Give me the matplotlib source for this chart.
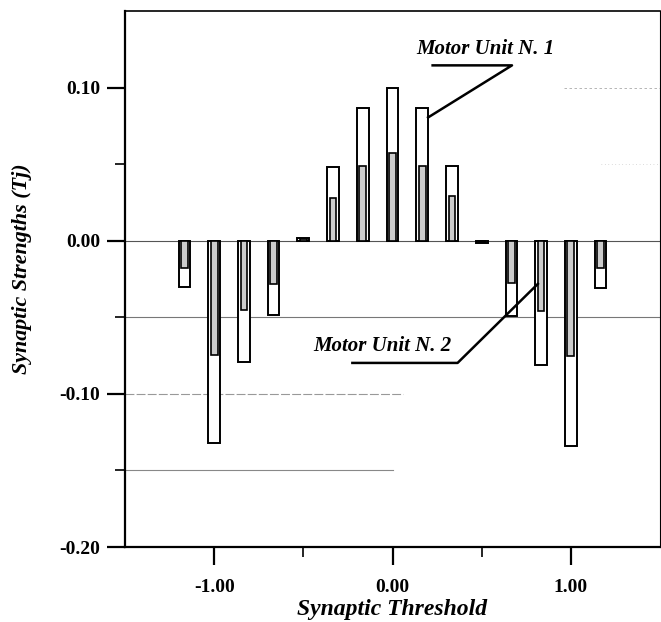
import numpy as np
import matplotlib.pyplot as plt

# Dane
progi = [-7/6, -1.0, -5/6, -4/6, -0.5, -2/6, -1/6, 0.0, 1/6, 2/6, 0.5, 4/6, 5/6, 1.0, 7/6]
unit1 = [-0.030, -0.132, -0.079, -0.0485, 0.0015, 0.048, 0.0865, 0.100, 0.0865, 0.0485,
         -0.0015, -0.049, -0.081, -0.134, -0.031]
unit2 = [-0.0175, -0.0747, -0.045, -0.028, 0.001, 0.028, 0.049, 0.057, 0.049, 0.029,
         -0.001, -0.0277, -0.046, -0.0753, -0.018]

yticks = [0.10, 0.00, -0.10, -0.20]
xticks = [-1.0, 0.0, 1.0]

serif = ['Liberation Serif', 'DejaVu Serif']

fig = plt.figure(figsize=(6.61, 6.22), dpi=100)
ax = fig.add_axes([125/661, 75/622, 535/661, 536/622])

# Linie siatki (częściowe, jak na skanie)
ax.axhline(0.0, color='#555555', lw=0.8, zorder=1)
ax.axhline(-0.05, color='#777777', lw=0.8, zorder=1)
ax.axhline(-0.10, xmax=0.52, color='#999999', lw=0.8, ls=(0, (8, 2)), zorder=1)
ax.axhline(-0.15, xmax=0.50, color='#888888', lw=0.8, zorder=1)
ax.axhline(0.10, xmin=0.82, color='#aaaaaa', lw=0.6, ls=(0, (3, 3)), zorder=1)
ax.axhline(0.05, xmin=0.89, color='#bbbbbb', lw=0.5, ls=(0, (1, 4)), zorder=1)

ax.bar(progi, unit1, width=0.066, facecolor='white', edgecolor='black', lw=1.4, zorder=2)
ax.bar(progi, unit2, width=0.038, facecolor='#cccccc', edgecolor='black', lw=1.2, zorder=3)

ax.set_xlim(-1.5, 1.5)
ax.set_ylim(-0.20, 0.15)

ax.set_xticks(xticks)
ax.set_xticklabels(['%.2f' % v for v in xticks])
ax.set_xticks([-0.5, 0.5], minor=True)
ax.set_yticks(yticks)
ax.set_yticklabels(['%.2f' % v for v in yticks])
ax.set_yticks([0.05, -0.05, -0.15], minor=True)

ax.tick_params(axis='both', which='major', direction='out', length=13, width=1.6)
ax.tick_params(axis='x', which='major', pad=10)
ax.tick_params(axis='y', which='major', pad=5)
ax.tick_params(axis='both', which='minor', direction='out', length=7, width=1.2)
for lab in ax.get_xticklabels() + ax.get_yticklabels():
    lab.set_family(serif)
    lab.set_fontweight('bold')
    lab.set_fontsize(14)

ax.spines['left'].set_linewidth(1.6)
ax.spines['bottom'].set_linewidth(1.6)
ax.spines['top'].set_linewidth(1.2)
ax.spines['right'].set_linewidth(0.8)

ax.set_xlabel('Synaptic Threshold', family=serif, fontweight='bold', style='italic',
              fontsize=17, va='center')
ax.xaxis.set_label_coords(0.5, (547 - 609) / 536)
ax.set_ylabel('Synaptic Strengths (Tj)', family=serif, fontweight='bold', style='italic',
              fontsize=15.8, va='center')
ax.yaxis.set_label_coords((22 - 125) / 535, (547 - 269) / 536)

# Adnotacje
ax.text(0.52, 0.1255, 'Motor Unit N. 1', ha='center', va='center', family=serif,
        fontweight='bold', style='italic', fontsize=15)
ax.plot([0.225, 0.67, 1/6 + 0.033], [0.1145, 0.1145, 0.0805], color='black', lw=1.8, zorder=4)

ax.text(-0.055, -0.0685, 'Motor Unit N. 2', ha='center', va='center', family=serif,
        fontweight='bold', style='italic', fontsize=15)
ax.plot([-0.225, 0.365, 0.815], [-0.0798, -0.0798, -0.0282], color='black', lw=1.8, zorder=4)

fig.savefig('out.png', dpi=100)
